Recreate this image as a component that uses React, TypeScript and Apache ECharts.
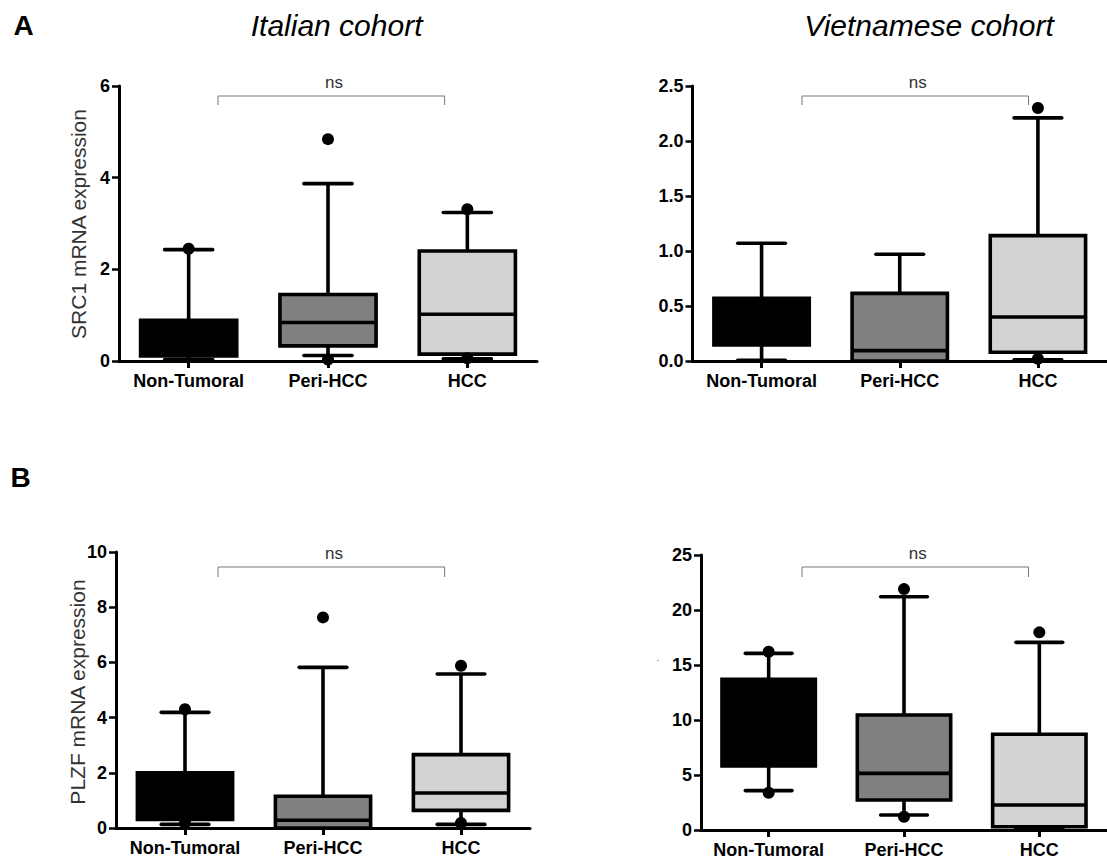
import React, { useEffect, useRef } from "react";
import * as echarts from "echarts";

const categories = ["Non-Tumoral", "Peri-HCC", "HCC"];
const boxFills = ["#000000", "#808080", "#d3d3d3"];

// each row: [min, Q1, median, Q3, max]
const src1Italian = [
  [0.03, 0.11, 0.5, 0.89, 2.43],
  [0.12, 0.33, 0.84, 1.45, 3.87],
  [0.05, 0.15, 1.02, 2.4, 3.24],
];
const src1ItalianOutliers = [[0, 2.45], [1, 4.84], [1, 0.03], [2, 3.31], [2, 0.06]];

const src1Viet = [
  [0.006, 0.145, 0.35, 0.57, 1.07],
  [0.0, 0.0, 0.094, 0.615, 0.97],
  [0.01, 0.08, 0.4, 1.14, 2.21],
];
const src1VietOutliers = [[2, 2.3], [2, 0.02]];

const plzfItalian = [
  [0.13, 0.31, 1.0, 2.0, 4.19],
  [0.0, 0.0, 0.28, 1.15, 5.82],
  [0.13, 0.64, 1.27, 2.66, 5.58],
];
const plzfItalianOutliers = [[0, 4.3], [0, 0.18], [1, 7.63], [2, 5.88], [2, 0.18]];

const plzfViet = [
  [3.58, 5.82, 10.0, 13.7, 16.06],
  [1.36, 2.73, 5.15, 10.45, 21.2],
  [0.15, 0.3, 2.27, 8.7, 17.06],
];
const plzfVietOutliers = [[0, 16.2], [0, 3.39], [1, 21.9], [1, 1.21], [2, 17.97]];

const yMax = [6, 2.5, 10, 25];
const yInterval = [2, 0.5, 2, 5];
const yDecimals = [0, 1, 0, 0];

const FONT = "Arial, 'Liberation Sans', Helvetica, sans-serif";

function renderBox(params: any, api: any) {
  const cat = api.value(0);
  const band = api.size([1, 0])[0];
  const cx = api.coord([cat, 0])[0];
  const bw = band * 0.69;
  const cw = bw * 0.5;
  const y = (i: number) => api.coord([cat, api.value(i)])[1];
  const yMin = y(1), yQ1 = y(2), yMed = y(3), yQ3 = y(4), yMx = y(5);
  const lw = 3.6;
  const ls = { stroke: "#000", lineWidth: lw };
  return {
    type: "group",
    children: [
      { type: "line", shape: { x1: cx, y1: yQ3, x2: cx, y2: yMx }, style: ls },
      { type: "line", shape: { x1: cx, y1: yQ1, x2: cx, y2: yMin }, style: ls },
      { type: "line", shape: { x1: cx - cw / 2, y1: yMx, x2: cx + cw / 2, y2: yMx }, style: { ...ls, lineCap: "round" } },
      { type: "line", shape: { x1: cx - cw / 2, y1: yMin, x2: cx + cw / 2, y2: yMin }, style: { ...ls, lineCap: "round" } },
      {
        type: "rect",
        shape: { x: cx - bw / 2, y: yQ3, width: bw, height: yQ1 - yQ3 },
        style: { fill: boxFills[cat], stroke: "#000", lineWidth: lw },
      },
      { type: "line", shape: { x1: cx - bw / 2, y1: yMed, x2: cx + bw / 2, y2: yMed }, style: ls },
    ],
  };
}

const grids = [
  { left: 119, top: 86, width: 418, height: 275 },
  { left: 692.5, top: 86, width: 419.5, height: 275 },
  { left: 116, top: 552, width: 414, height: 276 },
  { left: 701, top: 555, width: 414, height: 275 },
];

const panels = [
  { box: src1Italian, out: src1ItalianOutliers },
  { box: src1Viet, out: src1VietOutliers },
  { box: plzfItalian, out: plzfItalianOutliers },
  { box: plzfViet, out: plzfVietOutliers },
];

function bracket(x1: number, x2: number, yTop: number, yLeg: number, nsX: number, nsY: number) {
  return [
    {
      type: "polyline",
      shape: { points: [[x1, yLeg], [x1, yTop], [x2, yTop], [x2, yLeg]] },
      style: { stroke: "#777", lineWidth: 1, fill: null },
    },
    {
      type: "text",
      x: nsX,
      y: nsY,
      style: { text: "ns", fontSize: 17, fontFamily: FONT, fill: "#333", textAlign: "center", textVerticalAlign: "middle" },
    },
  ];
}

export default function App() {
  const ref = useRef<HTMLDivElement>(null);
  useEffect(() => {
    document.body.style.margin = "0";
    if (!ref.current) return;
    const chart = echarts.init(ref.current, null, { renderer: "svg" });

    const xAxis = grids.map((_, i) => ({
      type: "category",
      gridIndex: i,
      data: categories,
      boundaryGap: true,
      axisLine: { lineStyle: { color: "#000", width: 3 } },
      axisTick: { show: true, alignWithLabel: true, length: 7, lineStyle: { color: "#000", width: 3 } },
      axisLabel: { color: "#000", fontWeight: "bold", fontSize: 18, fontFamily: FONT, margin: 11, interval: 0 },
      splitLine: { show: false },
    }));

    const yAxis = grids.map((_, i) => ({
      type: "value",
      gridIndex: i,
      min: 0,
      max: yMax[i],
      interval: yInterval[i],
      axisLine: { show: true, lineStyle: { color: "#000", width: 3 } },
      axisTick: { show: true, length: 7, lineStyle: { color: "#000", width: 2.5 } },
      axisLabel: {
        color: "#000",
        fontWeight: "bold",
        fontSize: 18,
        fontFamily: FONT,
        margin: 9,
        formatter: (v: number) => v.toFixed(yDecimals[i]),
      },
      splitLine: { show: false },
    }));

    const series: any[] = [];
    panels.forEach((p, i) => {
      series.push({
        type: "custom",
        xAxisIndex: i,
        yAxisIndex: i,
        renderItem: renderBox,
        encode: { x: 0, y: [1, 2, 3, 4, 5] },
        data: p.box.map((r, k) => [k, ...r]),
        z: 2,
      });
      series.push({
        type: "scatter",
        xAxisIndex: i,
        yAxisIndex: i,
        data: p.out,
        symbol: "circle",
        symbolSize: 12,
        itemStyle: { color: "#000", opacity: 1 },
        z: 3,
      });
    });

    const titleStyle = (text: string, size: number, bold: boolean, italic: boolean) => ({
      text,
      fontSize: size,
      fontFamily: FONT,
      fontWeight: bold ? "bold" : "normal",
      fontStyle: italic ? "italic" : "normal",
      fill: "#000",
      textAlign: "center",
      textVerticalAlign: "middle",
    });

    const graphic: any[] = [
      { type: "text", x: 23.5, y: 25, style: titleStyle("A", 28, true, false) },
      { type: "text", x: 20.5, y: 477, style: titleStyle("B", 28, true, false) },
      { type: "text", x: 336.6, y: 25, style: titleStyle("Italian cohort", 30, false, true) },
      { type: "text", x: 929, y: 25, style: titleStyle("Vietnamese cohort", 30, false, true) },
      {
        type: "text",
        x: 78.6,
        y: 224,
        rotation: Math.PI / 2,
        style: { ...titleStyle("SRC1 mRNA expression", 21, false, false), fill: "#333" },
      },
      {
        type: "text",
        x: 77,
        y: 692,
        rotation: Math.PI / 2,
        style: { ...titleStyle("PLZF mRNA expression", 21, false, false), fill: "#333" },
      },
      { type: "text", x: 658, y: 657, style: { ...titleStyle(".", 10, false, false), fill: "#555" } },
      ...bracket(218, 444.6, 96, 105, 334, 82),
      ...bracket(802, 1028.5, 96, 105, 917.7, 82),
      ...bracket(218, 444.6, 567, 577, 334, 553),
      ...bracket(802, 1028.5, 567, 577, 917.7, 553),
    ];

    chart.setOption({
      animation: false,
      backgroundColor: "#fff",
      grid: grids.map((g) => ({ ...g, containLabel: false })),
      xAxis,
      yAxis,
      series,
      graphic,
    });
    return () => chart.dispose();
  }, []);
  return <div ref={ref} style={{ width: 1107, height: 861 }} />;
}
